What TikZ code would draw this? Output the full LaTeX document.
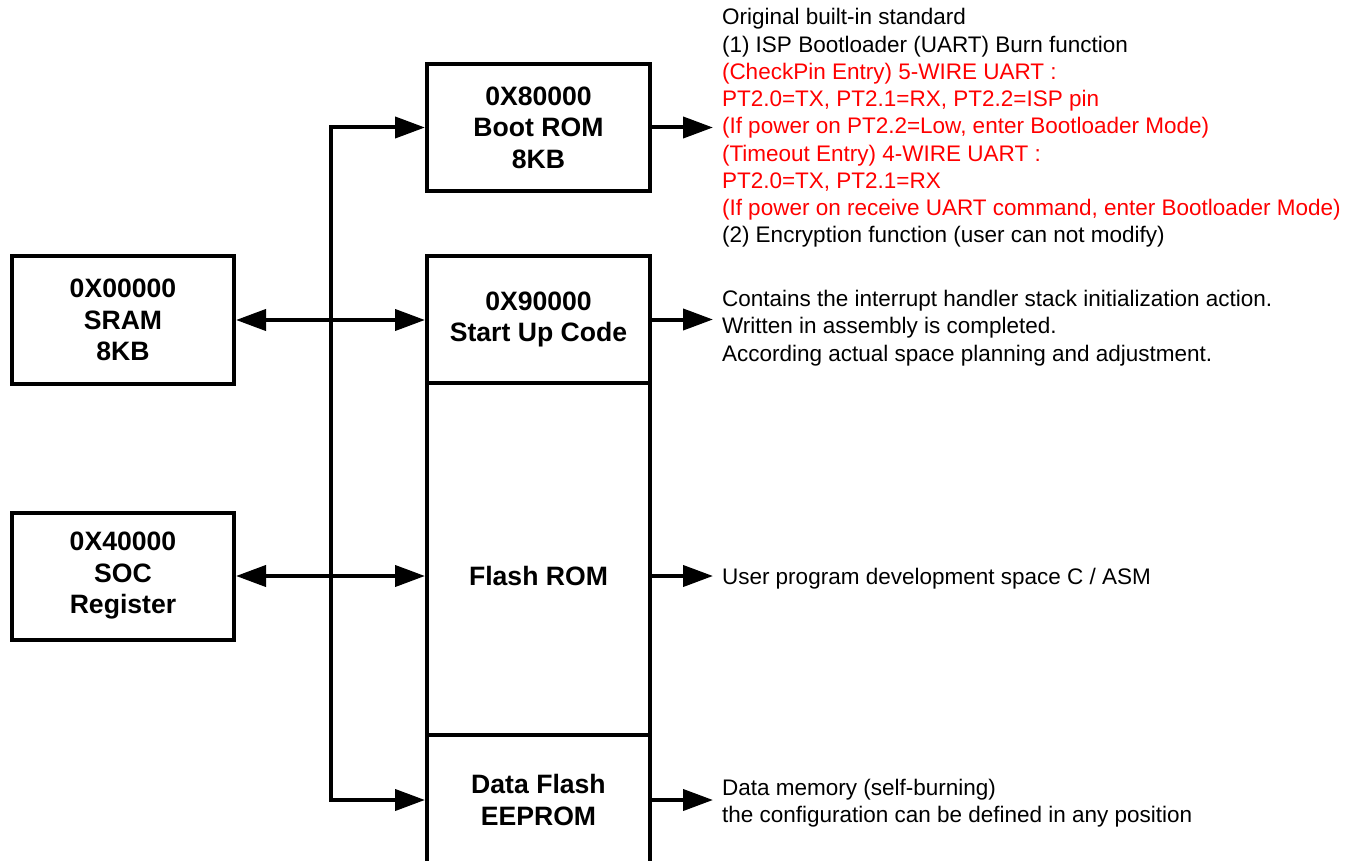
\documentclass[tikz,border=0pt]{standalone}
\usepackage{fontspec}
\setmainfont{Liberation Sans}
\usetikzlibrary{arrows.meta}

\begin{document}
\begin{tikzpicture}[x=1pt,y=-1pt,line width=4pt]
\tikzstyle{boxtext}=[align=center,inner sep=0pt,font=\fontsize{26.6}{31.5}\selectfont\bfseries]
\tikzstyle{membox}=[boxtext,draw,rectangle,minimum width=223pt]
\tikzstyle{note}=[anchor=west,align=left,inner xsep=9pt,inner ysep=0pt,outer sep=0pt,font=\fontsize{22.5}{27.25}\selectfont]
\tikzstyle{link}=[-{Triangle[length=30pt,width=21pt]}]
\tikzstyle{dlink}=[{Triangle[length=30pt,width=21pt]}-{Triangle[length=30pt,width=21pt]}]
\useasboundingbox (0,0) rectangle (1360,861);
\node[membox,minimum width=222pt,minimum height=128pt] (sram) at (123,320) {0X00000\\SRAM\\8KB};
\node[membox,minimum width=222pt,minimum height=127pt] (soc) at (123,576) {0X40000\\SOC\\Register};
\node[membox,minimum height=127pt] (bootrom) at (538.5,127.5) {0X80000\\Boot ROM\\8KB};
\node[membox,minimum height=127pt] (startup) at (538.5,319.5) {0X90000\\Start Up Code};
\node[membox,minimum height=352pt] (flash) at (538.5,559) {};
\node[boxtext] (flashtxt) at (flash.center |- soc.center) {Flash ROM};
\node[membox,minimum height=130pt] (dataflash) at (538.5,800) {Data Flash\\EEPROM};
\coordinate (busx) at (331,0);
\draw[dlink] (bootrom.west) -- (bootrom.west -| busx) -- (dataflash.west -| busx) -- (dataflash.west);
\draw[dlink] (sram.east) -- (startup.west |- sram.east);
\draw[dlink] (soc.east) -- (flash.west |- soc.east);
\node[note] (bootnote) at (713,128) {Original built-in standard\\
(1) ISP Bootloader (UART) Burn function\\
\textcolor{red}{(CheckPin Entry) 5-WIRE UART :}\\
\textcolor{red}{PT2.0=TX, PT2.1=RX, PT2.2=ISP pin}\\
\textcolor{red}{(If power on PT2.2=Low, enter Bootloader Mode)}\\
\textcolor{red}{(Timeout Entry) 4-WIRE UART :}\\
\textcolor{red}{PT2.0=TX, PT2.1=RX}\\
\textcolor{red}{(If power on receive UART command, enter Bootloader Mode)}\\
(2) Encryption function (user can not modify)};
\draw[link] (bootrom.east) -- (bootrom.east -| bootnote.west);
\node[note] (startnote) at (713,328) {Contains the interrupt handler stack initialization action.\\
Written in assembly is completed.\\
According actual space planning and adjustment.};
\draw[link] (startup.east) -- (startup.east -| startnote.west);
\node[note] (flashnote) at (713,579) {User program development space C / ASM};
\draw[link] (flash.east |- soc.east) -- (flashnote.west |- soc.east);
\node[note] (datanote) at (713,803) {Data memory (self-burning)\\
the configuration can be defined in any position};
\draw[link] (dataflash.east) -- (dataflash.east -| datanote.west);
\end{tikzpicture}
\end{document}
